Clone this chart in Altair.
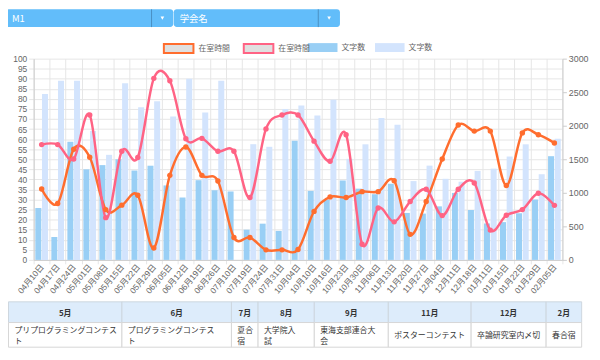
import altair as alt
import pandas as pd

FONT = "Liberation Sans, Noto Sans CJK JP, sans-serif"
CJK = "Noto Sans CJK JP, sans-serif"

dates = ["04月10日", "04月17日", "04月24日", "05月01日", "05月08日", "05月15日", "05月22日",
         "05月29日", "06月05日", "06月12日", "06月19日", "06月26日", "07月10日", "07月19日",
         "07月24日", "07月31日", "10月04日", "10月10日", "10月16日", "10月23日", "10月30日",
         "11月06日", "11月13日", "11月20日", "11月27日", "12月04日", "12月11日", "12月18日",
         "01月11日", "01月15日", "01月22日", "01月29日", "02月05日"]

# 在室時間 (left axis)
hours_a = [35.2, 28, 55, 51, 25, 27.2, 32.1, 5.9, 42, 56.1, 42, 39.2, 11.1, 11.1, 5, 5, 5.2,
           24.1, 31.3, 31, 33.9, 33.9, 39.3, 12.7, 29, 50.1, 67, 64, 64, 37, 63.1, 62.2, 58.1]
hours_b = [57.3, 57.3, 50.1, 72, 21, 54, 50.9, 90.2, 89, 60.2, 60.4, 54, 54, 31, 65.1, 72, 72,
           59, 49, 62.2, 7.8, 25.8, 18.9, 29, 35.1, 22, 35.1, 38.2, 14.8, 22.2, 25, 33.1, 27.1]

# 文字数 (right axis)
chars_a = [774, 342, 1761, 1350, 1413, 1500, 1332, 1404, 1110, 930, 1188, 1038, 1020, 450, 540,
           432, 1776, 1028, 900, 1184, 1062, 979, 1135, 700, 690, 798, 998, 744, 543, 563, 695,
           900, 1546]
chars_b = [2472, 2670, 2670, 1920, 1566, 2634, 2277, 2364, 2139, 2700, 2199, 2670, 0, 1725, 1686,
           2250, 2300, 2153, 2388, 1507, 1723, 2114, 2016, 1175, 1405, 1209, 1165, 1326, 1360,
           1541, 1723, 1277, 1806]

line_series = ["在室時間1", "在室時間2"]
bar_series = ["文字数1", "文字数2"]

selectors = ["M1", "学会名"]
months = ["5月", "6月", "7月", "8月", "9月", "11月", "12月", "2月"]
events = ["プリプログラミングコンテスト", "プログラミングコンテスト", "夏合宿", "大学院入試",
          "東海支部連合大会", "ポスターコンテスト", "卒論研究室内〆切", "春合宿"]

# layout (pixels relative to plot area)
wrap_at = [13, 11, 2, 4, 7, 0, 0, 0]
col_edges = [-25.5, 89.5, 200.5, 227.5, 284.5, 359.5, 443.5, 519.5, 555.5]
sel_edges = [-28, 142, 311]

ORANGE = "#ff6d2e"
PINK = "#ff6384"
BLUE = "#99cff5"
LIGHT = "#d3e4fd"
GRID = "#e6e6e6"
DOMAIN = "#cccccc"
RECT = "M-1,-0.3L1,-0.3L1,0.3L-1,0.3Z"

bars_df = pd.DataFrame({
    "date": dates * 2,
    "series": [bar_series[0]] * len(dates) + [bar_series[1]] * len(dates),
    "chars": chars_a + chars_b,
})
lines_df = pd.DataFrame({
    "date": dates * 2,
    "series": [line_series[0]] * len(dates) + [line_series[1]] * len(dates),
    "hours": hours_a + hours_b,
})
legend_df = pd.DataFrame({"series": line_series})

x_axis = alt.Axis(title=None, tickBand="extent", grid=True, gridColor=GRID, tickColor=GRID,
                  tickSize=4, domainColor=DOMAIN, labelAngle=-50, labelFontSize=8.5,
                  labelColor="#666", labelPadding=1, labelFont=FONT)
x_scale = alt.Scale(paddingInner=0, paddingOuter=0)
X = alt.X("date:N", sort=dates, scale=x_scale, axis=x_axis)

bars = alt.Chart(bars_df).mark_bar().encode(
    x=X,
    xOffset=alt.XOffset("series:N", sort=bar_series,
                        scale=alt.Scale(paddingInner=0.1, paddingOuter=0.25)),
    y=alt.Y("chars:Q", scale=alt.Scale(domain=[0, 3000], nice=False),
            axis=alt.Axis(orient="right", title=None, values=list(range(0, 3001, 500)),
                          format="d", grid=False, tickColor=DOMAIN, tickSize=4,
                          domainColor=DOMAIN, labelFontSize=9, labelColor="#666",
                          labelPadding=2, labelFont=FONT)),
    color=alt.Color("series:N", scale=alt.Scale(domain=bar_series, range=[BLUE, LIGHT]),
                    legend=alt.Legend(orient="none", legendX=278, legendY=-26.5,
                                      direction="horizontal", title=None,
                                      symbolType=RECT, symbolSize=900, symbolStrokeWidth=0,
                                      labelExpr="substring(datum.label,0,3)",
                                      labelFontSize=8, labelColor="#666", labelFont=CJK,
                                      labelOffset=4, columnPadding=10, padding=0)),
)

line_scale = alt.Scale(domain=line_series, range=[ORANGE, PINK])
Y_h = alt.Y("hours:Q", scale=alt.Scale(domain=[0, 100], nice=False),
            axis=alt.Axis(orient="left", title=None, values=list(range(0, 101, 5)),
                          grid=True, gridColor=GRID, tickColor=GRID, tickSize=5,
                          domainColor=DOMAIN, labelFontSize=8.5, labelColor="#666",
                          labelPadding=2, labelFont=FONT))

lines = alt.Chart(lines_df).mark_line(interpolate="cardinal", strokeWidth=2.5).encode(
    x=X, y=Y_h,
    stroke=alt.Stroke("series:N", scale=line_scale, legend=None),
)
dots = alt.Chart(lines_df).mark_circle(size=30, opacity=1).encode(
    x=X, y=Y_h,
    fill=alt.Fill("series:N", scale=line_scale, legend=None),
)
# legend carrier for the two 在室時間 series (drawn off-canvas, only its legend shows)
line_legend = alt.Chart(legend_df).mark_rect(fill="#e0e0e0", strokeWidth=2).encode(
    x=alt.value(-3000), x2=alt.value(-2990), y=alt.value(-3000), y2=alt.value(-2990),
    stroke=alt.Stroke("series:N", scale=line_scale,
                      legend=alt.Legend(orient="none", legendX=131, legendY=-26.5,
                                        direction="horizontal", title=None,
                                        symbolType=RECT, symbolSize=900, symbolStrokeWidth=2,
                                        labelExpr="substring(datum.label,0,4)",
                                        labelFontSize=8, labelColor="#666", labelFont=CJK,
                                        labelOffset=4, columnPadding=10, padding=0)),
)

one = pd.DataFrame({"k": [0]})
deco = []

# selector bars on top
for i, lab in enumerate(selectors):
    x0, x1 = sel_edges[i], sel_edges[i + 1]
    deco.append(alt.Chart(one).mark_rect(fill="#62bdfa", cornerRadius=3).encode(
        x=alt.value(x0), x2=alt.value(x1 - 0.5), y=alt.value(-50), y2=alt.value(-32)))
    deco.append(alt.Chart(one).mark_rule(color="#4a8fc2", strokeWidth=1).encode(
        x=alt.value(x1 - 22.5), y=alt.value(-50), y2=alt.value(-32)))
    deco.append(alt.Chart(one).mark_point(shape="triangle-down", filled=True, color="white",
                                          size=14, opacity=1).encode(
        x=alt.value(x1 - 11.5), y=alt.value(-41)))
    deco.append(alt.Chart(one).mark_text(align="left", baseline="middle", color="white",
                                         fontSize=9.5, font=CJK, dy=1).encode(
        x=alt.value(x0 + 6), y=alt.value(-41), text=alt.value(lab)))

# schedule table
H_TOP, H_BOT, B_BOT = 246.5, 267.5, 292.5
LH = 11
for i, (m, ev) in enumerate(zip(months, events)):
    x0, x1 = col_edges[i], col_edges[i + 1]
    w = wrap_at[i]
    parts = [ev[:w], ev[w:]] if w and len(ev) > w else [ev]
    y_first = (H_BOT + B_BOT) / 2 - (len(parts) - 1) * LH / 2 + 1.5
    deco.append(alt.Chart(one).mark_rect(fill="#ddecfb", stroke="#cdd6de", strokeWidth=1).encode(
        x=alt.value(x0), x2=alt.value(x1), y=alt.value(H_TOP), y2=alt.value(H_BOT)))
    deco.append(alt.Chart(one).mark_rect(fill="white", stroke="#d6d6d6", strokeWidth=1).encode(
        x=alt.value(x0), x2=alt.value(x1), y=alt.value(H_BOT), y2=alt.value(B_BOT)))
    deco.append(alt.Chart(one).mark_text(align="center", baseline="middle", fontWeight="bold",
                                         fontSize=8, color="#333", font=CJK).encode(
        x=alt.value((x0 + x1) / 2), y=alt.value((H_TOP + H_BOT) / 2 + 1.5), text=alt.value(m)))
    for j, part in enumerate(parts):
        deco.append(alt.Chart(one).mark_text(align="left", baseline="middle", fontSize=8,
                                             color="#333", font=CJK).encode(
            x=alt.value(x0 + 6), y=alt.value(y_first + j * LH), text=alt.value(part)))

main = alt.layer(bars, alt.layer(lines, dots)).resolve_scale(y="independent")

chart = alt.layer(main, line_legend, *deco).resolve_scale(
    stroke="independent"
).resolve_legend(stroke="independent").properties(
    width=536, height=204,
    autosize=alt.AutoSizeParams(type="none"),
    padding={"left": 26, "top": 49, "right": 30, "bottom": 89},
    background="white",
).configure_view(stroke=None)

chart.save("out.html", embed_options={"renderer": "svg", "actions": False})
